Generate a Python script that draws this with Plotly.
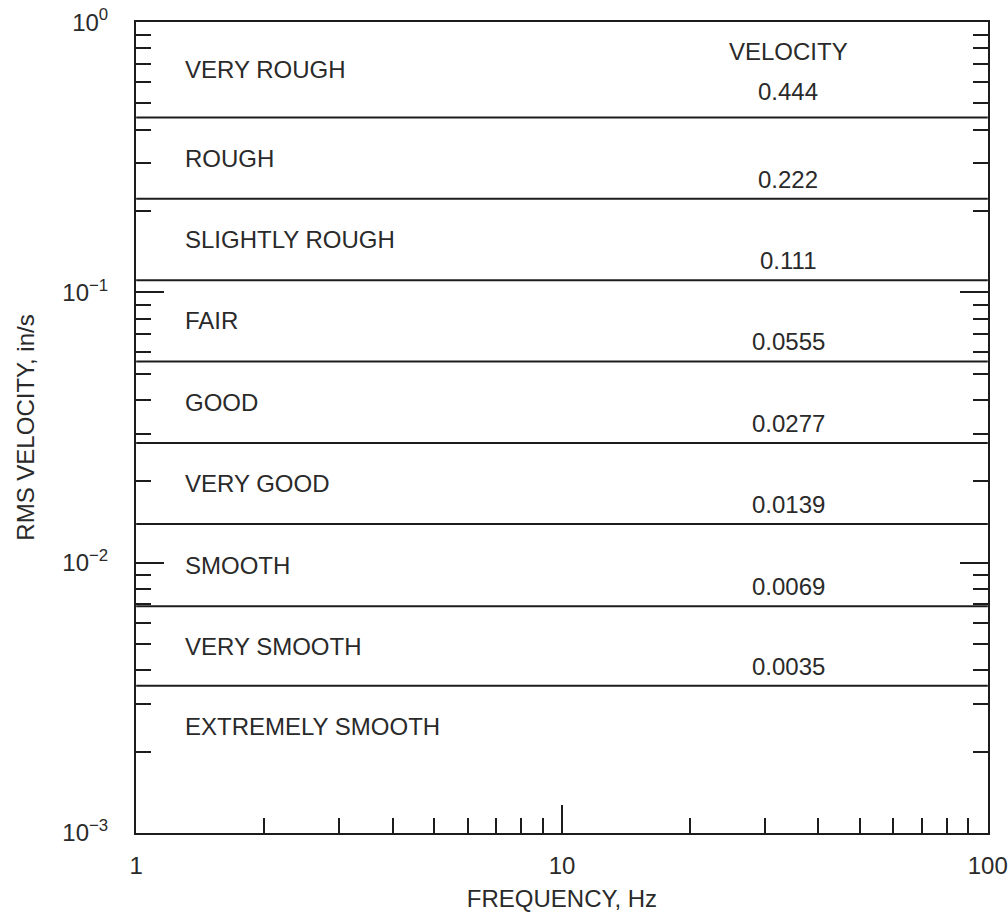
import math
import plotly.graph_objects as go

# ---- data ----
thresholds = [0.444, 0.222, 0.111, 0.0555, 0.0277, 0.0139, 0.0069, 0.0035]
threshold_labels = ["0.444", "0.222", "0.111", "0.0555", "0.0277", "0.0139", "0.0069", "0.0035"]
categories = ["VERY ROUGH", "ROUGH", "SLIGHTLY ROUGH", "FAIR", "GOOD",
              "VERY GOOD", "SMOOTH", "VERY SMOOTH", "EXTREMELY SMOOTH"]
x_range = [1, 100]
y_range = [0.001, 1]
x_tickvals = [1, 10, 100]
x_ticktext = ["1", "10", "100"]
y_tickvals = [0.001, 0.01, 0.1, 1]
y_ticktext = ["10<sup>\u22123</sup>", "10<sup>\u22122</sup>", "10<sup>\u22121</sup>", "10<sup>0</sup>"]

INK = "#1c1c1c"
TXT = "#2a2a2a"
FONT = "Liberation Sans, Arial, sans-serif"
EPS = 0.0005

fig = go.Figure()

# horizontal boundary lines
for v in thresholds:
    fig.add_trace(go.Scatter(x=x_range, y=[v, v], mode="lines",
                             line=dict(color=INK, width=2), showlegend=False,
                             hoverinfo="skip"))

annotations = []
uppers = [y_range[1]] + thresholds
lowers = thresholds + [thresholds[-1] / 2]
for name, up, lo in zip(categories, uppers, lowers):
    annotations.append(dict(x=math.log10(1.29), y=math.log10(math.sqrt(up * lo)),
                            xref="x", yref="y", text=name, showarrow=False,
                            xanchor="left", yanchor="middle",
                            font=dict(size=24, color=TXT, family=FONT)))

label_x = math.log10(34)
for i, (v, t) in enumerate(zip(thresholds, threshold_labels)):
    annotations.append(dict(x=label_x, y=math.log10(v), xref="x", yref="y",
                            text=t, showarrow=False, xanchor="center",
                            yanchor="bottom", yshift=10 if i == 0 else 4,
                            font=dict(size=24, color=TXT, family=FONT)))

annotations.append(dict(x=label_x, y=math.log10(0.78), xref="x", yref="y",
                        text="VELOCITY", showarrow=False, xanchor="center",
                        yanchor="middle",
                        font=dict(size=24, color=TXT, family=FONT)))

fig.update_layout(
    width=1008, height=913,
    margin=dict(l=136, r=20, t=22, b=80, autoexpand=False),
    paper_bgcolor="white", plot_bgcolor="white",
    font=dict(family=FONT, size=24, color=TXT),
    annotations=annotations,
    showlegend=False,
)

fig.update_xaxes(
    type="log", range=[math.log10(x_range[0]) - EPS, math.log10(x_range[1]) + EPS],
    tickvals=x_tickvals, ticktext=x_ticktext,
    ticks="inside", ticklen=28, tickwidth=2, tickcolor=INK,
    minor=dict(dtick="D1", ticks="inside", ticklen=15, tickwidth=2,
               tickcolor=INK, showgrid=False),
    showline=True, linecolor=INK, linewidth=2, mirror=True,
    showgrid=False, zeroline=False, automargin=False,
    ticklabelstandoff=10,
    title=dict(text="FREQUENCY, Hz", standoff=12,
               font=dict(size=24, color=TXT, family=FONT)),
)

fig.update_yaxes(
    type="log", range=[math.log10(y_range[0]) - EPS, math.log10(y_range[1]) + EPS],
    tickvals=y_tickvals, ticktext=y_ticktext,
    ticks="inside", ticklen=28, tickwidth=2, tickcolor=INK,
    minor=dict(dtick="D1", ticks="inside", ticklen=15, tickwidth=2,
               tickcolor=INK, showgrid=False),
    showline=True, linecolor=INK, linewidth=2, mirror="allticks",
    showgrid=False, zeroline=False, automargin=False,
    ticklabelstandoff=21,
    title=dict(text="RMS VELOCITY, in/s", standoff=21,
               font=dict(size=24, color=TXT, family=FONT)),
)

fig.write_html("out.html",
               config={"displayModeBar": False},
               post_script="document.body.style.margin='0';document.body.style.overflow='hidden';")
